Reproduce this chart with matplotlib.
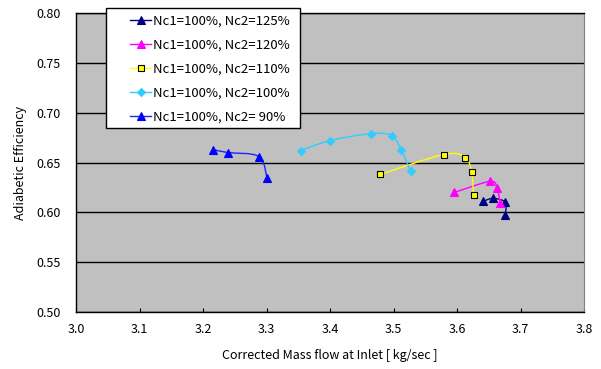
import matplotlib
matplotlib.use("Agg")
import matplotlib.pyplot as plt
from matplotlib.path import Path
from matplotlib.patches import PathPatch, Rectangle
from matplotlib.lines import Line2D
import numpy as np

plt.rcParams['font.family'] = ['Noto Sans CJK JP', 'DejaVu Sans']

# Data
x_125 = [3.641, 3.657, 3.676, 3.676]
y_125 = [0.611, 0.614, 0.610, 0.597]
x_120 = [3.596, 3.652, 3.663, 3.668]
y_120 = [0.620, 0.631, 0.624, 0.609]
x_110 = [3.479, 3.579, 3.613, 3.623, 3.626]
y_110 = [0.638, 0.658, 0.655, 0.640, 0.617]
x_100 = [3.354, 3.400, 3.465, 3.497, 3.512, 3.527]
y_100 = [0.662, 0.672, 0.679, 0.677, 0.663, 0.641]
x_90 = [3.216, 3.239, 3.288, 3.301]
y_90 = [0.663, 0.660, 0.656, 0.634]

labels = ["Nc1=100%, Nc2=125%", "Nc1=100%, Nc2=120%", "Nc1=100%, Nc2=110%",
          "Nc1=100%, Nc2=100%", "Nc1=100%, Nc2= 90%"]
xticks = [3.0, 3.1, 3.2, 3.3, 3.4, 3.5, 3.6, 3.7, 3.8]
yticks = [0.50, 0.55, 0.60, 0.65, 0.70, 0.75, 0.80]

series = [
    (x_125, y_125, dict(color='#000080', marker='^', mfc='#000080', mec='#000080', ms=6)),
    (x_120, y_120, dict(color='#FF00FF', marker='^', mfc='#FF00FF', mec='#FF00FF', ms=6)),
    (x_110, y_110, dict(color='#FFFF00', marker='s', mfc='#FFFF00', mec='#000000', ms=5)),
    (x_100, y_100, dict(color='#33CCFF', marker='D', mfc='#33CCFF', mec='#33CCFF', ms=4.5)),
    (x_90, y_90, dict(color='#2222FF', marker='^', mfc='#0000FF', mec='#0000FF', ms=6)),
]


def smooth_path(xs, ys):
    pts = np.column_stack([xs, ys])
    n = len(pts)
    verts = [pts[0]]
    codes = [Path.MOVETO]
    for i in range(n - 1):
        p0 = pts[i - 1] if i > 0 else pts[i]
        p1 = pts[i]
        p2 = pts[i + 1]
        p3 = pts[i + 2] if i + 2 < n else pts[i + 1]
        c1 = p1 + (p2 - p0) / 6.0
        c2 = p2 - (p3 - p1) / 6.0
        verts += [c1, c2, p2]
        codes += [Path.CURVE4] * 3
    return Path(verts, codes)


W, H = 601, 369
fig = plt.figure(figsize=(W/100, H/100), dpi=100)
ax = fig.add_axes([76/W, 1-312/H, (584-76)/W, (312-13)/H])
ax.set_facecolor('#C0C0C0')

handles = []
for (xs, ys, st), lab in zip(series, labels):
    patch = PathPatch(smooth_path(xs, ys), facecolor='none', edgecolor=st['color'],
                      lw=1.0, zorder=3)
    ax.add_patch(patch)
    ax.plot(xs, ys, linestyle='none', marker=st['marker'], mfc=st['mfc'],
            mec=st['mec'], ms=st['ms'], mew=0.8, zorder=4)
    handles.append(Line2D([], [], color=st['color'], lw=1.0, marker=st['marker'],
                          mfc=st['mfc'], mec=st['mec'], ms=st['ms'] - 0.5, mew=0.8))

ax.set_xlim(3.0, 3.8)
ax.set_ylim(0.50, 0.80)
ax.set_xticks(xticks)
ax.set_xticklabels([f"{v:.1f}" for v in xticks])
ax.set_yticks(yticks)
ax.set_yticklabels([f"{v:.2f}" for v in yticks])
ax.yaxis.grid(True, color='black', lw=1.0)
ax.set_axisbelow(True)
ax.tick_params(axis='x', direction='in', length=3, width=0.8, pad=8, labelsize=9)
ax.tick_params(axis='y', length=0, pad=11, labelsize=9)
for s in ['left', 'top', 'bottom']:
    ax.spines[s].set_color('black')
    ax.spines[s].set_linewidth(1.0)
ax.spines['right'].set_color('#808080')

ax.set_xlabel("Corrected Mass flow at Inlet [ kg/sec ]", fontsize=9, labelpad=9)
ax.set_ylabel("Adiabetic Efficiency", fontsize=9, labelpad=7)

# legend frame
frame = Rectangle((106/W, 1-128/H), (300-106)/W, (128-8)/H, transform=fig.transFigure,
                  facecolor='white', edgecolor='black', lw=1.0, zorder=5)
fig.add_artist(frame)
leg = fig.legend(handles, labels, loc='upper left',
                 bbox_to_anchor=(126/W, 1-11/H), fontsize=9.5,
                 frameon=False, handlelength=1.6, borderpad=0.3,
                 labelspacing=0.83, handletextpad=0.15, borderaxespad=0)
leg.set_zorder(6)

fig.savefig("out.png", dpi=100)
